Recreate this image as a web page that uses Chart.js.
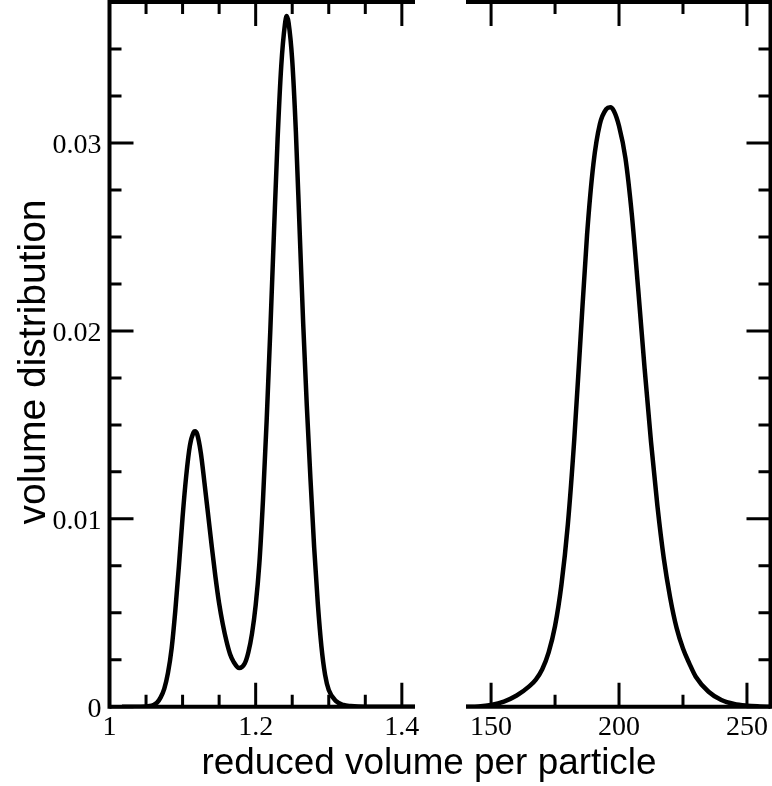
<!DOCTYPE html>
<html>
<head>
<meta charset="utf-8">
<title>volume distribution</title>
<script src="https://cdn.jsdelivr.net/npm/chart.js@4.4.1/dist/chart.umd.min.js"></script>
<style>
  html, body { margin: 0; padding: 0; background: #fff; }
  #wrap { position: relative; width: 772px; height: 786px; overflow: hidden; }
  #wrap canvas { position: absolute; left: 0; top: 0; }
</style>
</head>
<body>
<div id="wrap">
  <canvas id="leftChart" width="772" height="786"></canvas>
  <canvas id="rightChart" width="772" height="786"></canvas>
</div>
<script>
/* ================== DATA ================== */
// left panel (small volumes)
const leftVolume = [
  1.017, 1.03, 1.04, 1.05, 1.055, 1.06, 1.065, 1.07, 1.075, 1.08,
  1.085, 1.09, 1.095, 1.1, 1.105, 1.11, 1.115, 1.117, 1.12, 1.125,
  1.13, 1.135, 1.14, 1.145, 1.15, 1.155, 1.16, 1.165, 1.17, 1.1775,
  1.185, 1.19, 1.195, 1.2, 1.205, 1.21, 1.215, 1.22, 1.225, 1.23,
  1.235, 1.24, 1.2425, 1.245, 1.25, 1.255, 1.26, 1.265, 1.27, 1.275,
  1.28, 1.285, 1.29, 1.295, 1.3, 1.31, 1.32, 1.33, 1.35, 1.38,
  1.418
];
const leftDist = [
  0, 0, 0.000005, 0.000015, 0.00004, 0.0001, 0.00022, 0.0005, 0.00097, 0.0018,
  0.0031, 0.0051, 0.0075, 0.0101, 0.0123, 0.0139, 0.0146, 0.01466, 0.0145, 0.0135,
  0.0119, 0.0102, 0.0085, 0.0069, 0.0055, 0.0044, 0.0035, 0.0028, 0.00238, 0.00206,
  0.0023, 0.0029, 0.0039, 0.0054, 0.0076, 0.0110, 0.0152, 0.0200, 0.0252, 0.0302,
  0.0341, 0.0363, 0.03675, 0.0364, 0.0344, 0.0306, 0.0255, 0.0204, 0.0160, 0.0121,
  0.0085, 0.0055, 0.0032, 0.0017, 0.0009, 0.0003, 0.0001, 0.00004, 0, 0,
  0
];

// right panel (large volumes)
const rightVolume = [
  140.2, 145, 150, 155, 160, 165, 167.5, 170, 172.5, 175,
  177.5, 180, 182.5, 185, 187.5, 190, 192.5, 195, 196.6, 198,
  200, 202.5, 205, 207.5, 210, 212.5, 215, 217.5, 220, 222.5,
  225, 227.5, 230, 235, 240, 245, 250, 255, 259.2
];
const rightDist = [
  0, 0.00002, 0.0001, 0.00028, 0.0006, 0.0011, 0.00145, 0.0020, 0.0029, 0.0043,
  0.0065, 0.0097, 0.0142, 0.0197, 0.0251, 0.0289, 0.0310, 0.0318, 0.0319, 0.0317,
  0.0309, 0.0292, 0.0262, 0.0222, 0.0180, 0.0141, 0.0107, 0.0079, 0.0058, 0.0042,
  0.0031, 0.0023, 0.0016, 0.0008, 0.00036, 0.00015, 0.00006, 0.00002, 0
];

// ticks
const yMajorTicks = [0, 0.01, 0.02, 0.03];
const yTickLabels = ["0", "0.01", "0.02", "0.03"];
const yMinorTicks = [0.0025, 0.005, 0.0075, 0.0125, 0.015, 0.0175, 0.0225, 0.025, 0.0275, 0.0325, 0.035];

const leftMajorX = [1, 1.2, 1.4];
const leftXLabels = ["1", "1.2", "1.4"];
const leftMinorX = [1.05, 1.1, 1.15, 1.25, 1.3, 1.35];

const rightMajorX = [150, 200, 250];
const rightXLabels = ["150", "200", "250"];
const rightMinorX = [175, 225];

const xTitle = "reduced volume per particle";
const yTitle = "volume distribution";

/* ================== STYLE ================== */
const Y_MAX = 0.0375;
const MAJOR_LEN = 24;
const MINOR_LEN = 12;
const labelFont = "28px 'Liberation Serif', 'Times New Roman', serif";
const xTitleFont = "37px 'Liberation Sans', Arial, sans-serif";
const yTitleFont = "38px 'Liberation Sans', Arial, sans-serif";

/* ================== FRAME PLUGIN ================== */
function fitText(ctx, text, targetWidth) {
  const w = ctx.measureText(text).width;
  ctx.scale(targetWidth / w, 1);
  ctx.fillText(text, 0, 0);
}

const framePlugin = {
  id: "frame",
  afterDatasetsDraw(chart, args, opts) {
    const { ctx, chartArea: a } = chart;
    const xs = chart.scales.x;
    const ys = chart.scales.y;
    const sideX = opts.side === "left" ? a.left : a.right;
    const dir = opts.side === "left" ? 1 : -1;

    ctx.save();
    ctx.strokeStyle = "#000";
    ctx.fillStyle = "#000";

    // top and bottom lines
    ctx.lineWidth = 4;
    ctx.lineCap = "butt";
    ctx.beginPath();
    ctx.moveTo(a.left, a.top); ctx.lineTo(a.right, a.top);
    ctx.moveTo(a.left, a.bottom); ctx.lineTo(a.right, a.bottom);
    ctx.stroke();

    // side axis
    ctx.lineCap = "square";
    ctx.beginPath();
    ctx.moveTo(sideX, a.top); ctx.lineTo(sideX, a.bottom);
    ctx.stroke();

    // x ticks, top and bottom, pointing inward
    ctx.lineCap = "butt";
    ctx.lineWidth = 3;
    ctx.beginPath();
    opts.majorX.forEach(v => {
      const px = xs.getPixelForValue(v);
      ctx.moveTo(px, a.bottom); ctx.lineTo(px, a.bottom - MAJOR_LEN);
      ctx.moveTo(px, a.top); ctx.lineTo(px, a.top + MAJOR_LEN);
    });
    opts.minorX.forEach(v => {
      const px = xs.getPixelForValue(v);
      ctx.moveTo(px, a.bottom); ctx.lineTo(px, a.bottom - MINOR_LEN);
      ctx.moveTo(px, a.top); ctx.lineTo(px, a.top + MINOR_LEN);
    });
    // y ticks on the side axis
    yMajorTicks.forEach(v => {
      const py = ys.getPixelForValue(v);
      ctx.moveTo(sideX, py); ctx.lineTo(sideX + dir * MAJOR_LEN, py);
    });
    yMinorTicks.forEach(v => {
      const py = ys.getPixelForValue(v);
      ctx.moveTo(sideX, py); ctx.lineTo(sideX + dir * MINOR_LEN, py);
    });
    ctx.stroke();

    // x tick labels
    ctx.font = labelFont;
    ctx.textAlign = "center";
    ctx.textBaseline = "alphabetic";
    opts.majorX.forEach((v, i) => {
      ctx.fillText(opts.xLabels[i], xs.getPixelForValue(v), a.bottom + 28);
    });

    if (opts.side === "left") {
      // y tick labels
      ctx.textAlign = "right";
      yMajorTicks.forEach((v, i) => {
        ctx.fillText(yTickLabels[i], a.left - 8, ys.getPixelForValue(v) + 10.5);
      });

      // axis titles
      ctx.textAlign = "center";
      ctx.font = xTitleFont;
      ctx.save();
      ctx.translate(429, 774);
      fitText(ctx, xTitle, 455);
      ctx.restore();

      ctx.font = yTitleFont;
      ctx.save();
      ctx.translate(45, 362);
      ctx.rotate(-Math.PI / 2);
      fitText(ctx, yTitle, 325);
      ctx.restore();
    }
    ctx.restore();
  }
};

/* ================== CHARTS ================== */
function makePanel(canvasId, volume, dist, xMin, xMax, padding, frameOpts) {
  return new Chart(document.getElementById(canvasId), {
    type: "line",
    data: {
      datasets: [{
        data: volume.map((v, i) => ({ x: v, y: dist[i] })),
        borderColor: "#000",
        borderWidth: 4.5,
        pointRadius: 0,
        fill: false,
        cubicInterpolationMode: "monotone",
        borderJoinStyle: "round"
      }]
    },
    options: {
      responsive: false,
      animation: false,
      layout: { padding },
      plugins: {
        legend: { display: false },
        tooltip: { enabled: false },
        frame: frameOpts
      },
      scales: {
        x: { type: "linear", min: xMin, max: xMax, display: false },
        y: { type: "linear", min: 0, max: Y_MAX, display: false }
      }
    },
    plugins: [framePlugin]
  });
}

makePanel("leftChart", leftVolume, leftDist, 1, 1.418,
  { left: 109.5, right: 772 - 415, top: 2, bottom: 786 - 706.8 },
  { side: "left", majorX: leftMajorX, minorX: leftMinorX, xLabels: leftXLabels });

makePanel("rightChart", rightVolume, rightDist, 140.2, 259.2,
  { left: 466, right: 772 - 770.5, top: 2, bottom: 786 - 706.8 },
  { side: "right", majorX: rightMajorX, minorX: rightMinorX, xLabels: rightXLabels });
</script>
</body>
</html>
